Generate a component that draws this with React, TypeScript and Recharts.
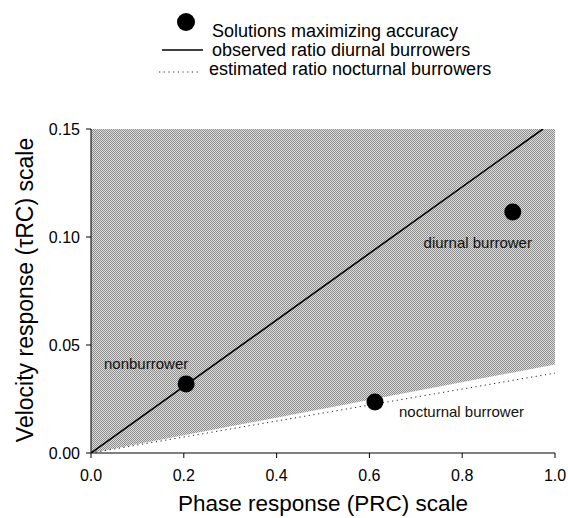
import React from "react";
import { ComposedChart, Area, Line, Scatter, XAxis, YAxis } from "recharts";

const xTicks = [0, 0.2, 0.4, 0.6, 0.8, 1.0];
const yTicks = [0, 0.05, 0.1, 0.15];

// shaded region: everything above the lower edge up to the top of the plot
const shadeX = [0, 1];
const shadeLow = [0, 0.041];
const shadeHigh = [0.15, 0.15];

// observed ratio diurnal burrowers
const diurnalX = [0, 0.974];
const diurnalY = [0, 0.15];

// estimated ratio nocturnal burrowers
const nocturnalX = [0, 1];
const nocturnalY = [0, 0.037];

const solutionNames = ["nonburrower", "nocturnal burrower", "diurnal burrower"];
const solutionX = [0.205, 0.612, 0.909];
const solutionY = [0.032, 0.0236, 0.1116];

const shadeData = shadeX.map((x, i) => ({ x, range: [shadeLow[i], shadeHigh[i]] }));
const diurnalData = diurnalX.map((x, i) => ({ x, y: diurnalY[i] }));
const nocturnalData = nocturnalX.map((x, i) => ({ x, y: nocturnalY[i] }));
const solutionData = solutionNames.map((name, i) => ({ name, x: solutionX[i], y: solutionY[i] }));

const FONT = "'Liberation Sans', Arial, Helvetica, sans-serif";

const labelPos: Record<string, { dx: number; dy: number; anchor: "start" | "middle" }> = {
  nonburrower: { dx: -40, dy: -15, anchor: "middle" },
  "diurnal burrower": { dx: -35, dy: 36, anchor: "middle" },
  "nocturnal burrower": { dx: 24, dy: 15, anchor: "start" },
};

const SolutionDot = (props: any) => {
  const { cx, cy, payload } = props;
  const p = labelPos[payload.name];
  return (
    <g>
      <circle cx={cx} cy={cy} r={8.5} fill="#000" />
      <text
        x={cx + p.dx}
        y={cy + p.dy}
        textAnchor={p.anchor}
        fontSize={15}
        fontFamily={FONT}
        fill="#111"
      >
        {payload.name}
      </text>
    </g>
  );
};

export default function App() {
  return (
    <div style={{ position: "absolute", left: 0, top: 0, background: "#fff" }}>
      <ComposedChart
        width={568}
        height={518}
        margin={{ top: 129, right: 13, bottom: 25, left: 31 }}
      >
        <defs>
          <pattern id="stipple" width="2" height="2" patternUnits="userSpaceOnUse">
            <rect width="2" height="2" fill="#dcdcdc" />
            <rect x="0" y="0" width="1" height="1" fill="#8e8e8e" />
            <rect x="1" y="1" width="1" height="1" fill="#8e8e8e" />
          </pattern>
        </defs>
        <XAxis
          dataKey="x"
          type="number"
          domain={[0, 1]}
          ticks={xTicks}
          tickFormatter={(v) => v.toFixed(1)}
          tick={{ fill: "#000", fontSize: 16, fontFamily: FONT }}
          tickMargin={12}
          tickSize={5}
          stroke="#000"
          height={40}
          allowDataOverflow
        />
        <XAxis
          xAxisId="top"
          dataKey="x"
          type="number"
          domain={[0, 1]}
          orientation="top"
          tick={false}
          tickLine={false}
          stroke="#000"
          height={0}
        />
        <YAxis
          type="number"
          domain={[0, 0.15]}
          ticks={yTicks}
          tickFormatter={(v) => v.toFixed(2)}
          tick={{ fill: "#000", fontSize: 16, fontFamily: FONT }}
          tickMargin={6}
          tickSize={5}
          stroke="#000"
          width={60}
          allowDataOverflow
        />
        <YAxis
          yAxisId="right"
          type="number"
          domain={[0, 0.15]}
          orientation="right"
          tick={false}
          tickLine={false}
          stroke="#000"
          width={0}
        />
        <Area
          data={shadeData}
          dataKey="range"
          type="linear"
          fill="url(#stipple)"
          fillOpacity={1}
          stroke="none"
          isAnimationActive={false}
        />
        <Line
          data={nocturnalData}
          dataKey="y"
          type="linear"
          stroke="#222"
          strokeWidth={1}
          strokeDasharray="1.2 3.5"
          dot={false}
          isAnimationActive={false}
        />
        <Line
          data={diurnalData}
          dataKey="y"
          type="linear"
          stroke="#000"
          strokeWidth={1.6}
          dot={false}
          isAnimationActive={false}
        />
        <Scatter
          data={solutionData}
          dataKey="y"
          shape={SolutionDot}
          isAnimationActive={false}
        />

        {/* legend */}
        <g fontFamily={FONT} fontSize={18} fill="#000">
          <circle cx={186} cy={22} r={9} fill="#000" />
          <text x={212} y={37}>Solutions maximizing accuracy</text>
          <line x1={162} y1={50} x2={203} y2={50} stroke="#000" strokeWidth={1.5} />
          <text x={212} y={56}>observed ratio diurnal burrowers</text>
          <line x1={159} y1={72} x2={200} y2={72} stroke="#333" strokeWidth={1} strokeDasharray="1.2 3.5" />
          <text x={209} y={75}>estimated ratio nocturnal burrowers</text>
        </g>

        {/* axis titles */}
        <text x={323} y={511} textAnchor="middle" fontSize={22.5} fontFamily={FONT} fill="#000">
          Phase response (PRC) scale
        </text>
        <text
          x={33}
          y={290}
          textAnchor="middle"
          fontSize={23}
          fontFamily={FONT}
          fill="#000"
          transform="rotate(-90, 33, 290)"
        >
          Velocity response (τRC) scale
        </text>
      </ComposedChart>
    </div>
  );
}
